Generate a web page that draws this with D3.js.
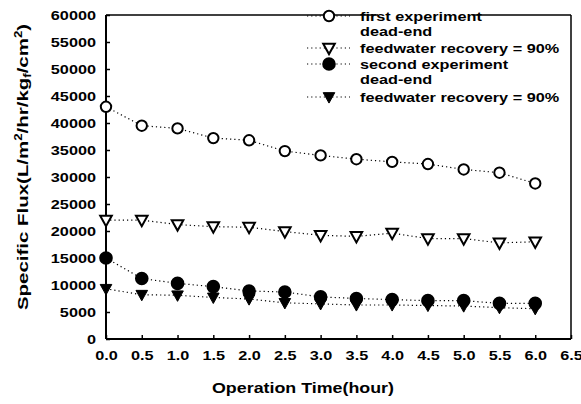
<!DOCTYPE html>
<html>
<head>
<meta charset="utf-8">
<script src="https://cdn.jsdelivr.net/npm/d3@7"></script>
<style>
html,body{margin:0;padding:0;background:#fff;}
svg{display:block;font-family:"Liberation Sans",Arial,sans-serif;font-weight:bold;}
</style>
</head>
<body>
<div id="chart"></div>
<script>
// operation time (hour)
const times=[0,0.5,1.0,1.5,2.0,2.5,3.0,3.5,4.0,4.5,5.0,5.5,6.0];
// specific flux, L/m2/hr/kgf/cm2
const firstDeadEnd=[43000,39500,39000,37200,36800,34800,34000,33300,32800,32400,31400,30800,28800];
const firstRecovery=[22000,22000,21200,20800,20700,19900,19200,19000,19600,18600,18600,17800,18000];
const secondDeadEnd=[15000,11200,10300,9700,8900,8700,7800,7500,7300,7100,7100,6600,6600];
const secondRecovery=[9300,8200,8100,7700,7400,6700,6500,6300,6300,6200,6100,5800,5600];
const xTicks=[0,0.5,1.0,1.5,2.0,2.5,3.0,3.5,4.0,4.5,5.0,5.5,6.0,6.5];
const yTicks=[0,5000,10000,15000,20000,25000,30000,35000,40000,45000,50000,55000,60000];
const legendLines=[
  {sym:'circleOpen',text:'first experiment'},
  {sym:null,text:'dead-end'},
  {sym:'triOpen',text:'feedwater recovery = 90%'},
  {sym:'circleFill',text:'second experiment'},
  {sym:null,text:'dead-end'},
  {sym:'triFill',text:'feedwater recovery = 90%'}
];

const series=[
  {values:firstDeadEnd,sym:'circleOpen'},
  {values:firstRecovery,sym:'triOpen'},
  {values:secondDeadEnd,sym:'circleFill'},
  {values:secondRecovery,sym:'triFill'}
];

const W=581,H=404;
const m={top:15,right:10,bottom:65,left:106};
const iw=W-m.left-m.right, ih=H-m.top-m.bottom;
const STRETCH=1.3;

const svg=d3.select('#chart').append('svg').attr('width',W).attr('height',H);
const g=svg.append('g').attr('transform',`translate(${m.left},${m.top})`);

const x=d3.scaleLinear().domain([0,6.5]).range([0,iw]);
const y=d3.scaleLinear().domain([0,60000]).range([ih,0]);

function stretch(sel,k){
  sel.attr('textLength',function(){return this.getComputedTextLength()*(k||STRETCH);})
    .attr('lengthAdjust','spacingAndGlyphs');
}

// axes
const xa=g.append('g').attr('transform',`translate(0,${ih})`)
  .call(d3.axisBottom(x).tickValues(xTicks).tickFormat(d3.format('.1f')).tickSizeInner(-4).tickSizeOuter(0).tickPadding(12));
const ya=g.append('g')
  .call(d3.axisLeft(y).tickValues(yTicks).tickFormat(d=>String(d)).tickSizeInner(-4).tickSizeOuter(0).tickPadding(10));
[xa,ya].forEach(a=>{
  a.selectAll('.domain').remove();
  a.selectAll('.tick line').attr('stroke','#000').attr('stroke-width',1.5);
  a.selectAll('text').attr('fill','#000').style('font-size','12.5px').style('font-weight','bold').call(stretch);
});

// frame
g.append('line').attr('x1',0).attr('x2',0).attr('y1',0).attr('y2',ih).attr('stroke','#000').attr('stroke-width',2);
g.append('line').attr('x1',0).attr('x2',iw).attr('y1',ih).attr('y2',ih).attr('stroke','#000').attr('stroke-width',2);
g.append('line').attr('x1',0).attr('x2',iw).attr('y1',0).attr('y2',0).attr('stroke','#000').attr('stroke-width',1.5);
g.append('line').attr('x1',iw).attr('x2',iw).attr('y1',0).attr('y2',ih).attr('stroke','#000').attr('stroke-width',1.5);

// markers
function drawSym(sel,sym){
  if(sym==='circleOpen'||sym==='circleFill'){
    sel.append('circle').attr('r',sym==='circleFill'?5.8:5.2)
      .attr('fill',sym==='circleFill'?'#000':'#fff')
      .attr('stroke','#000').attr('stroke-width',2);
  }else{
    const s=5.8;
    sel.append('path').attr('d',`M${-s},${-s*0.75}L${s},${-s*0.75}L0,${s*1.05}Z`)
      .attr('fill',sym==='triFill'?'#000':'#fff')
      .attr('stroke','#000').attr('stroke-width',sym==='triFill'?1:2).attr('stroke-linejoin','miter');
  }
}

const line=d3.line().x((d,i)=>x(times[i])).y(d=>y(d));
series.forEach(s=>{
  g.append('path').datum(s.values).attr('d',line)
    .attr('fill','none').attr('stroke','#000').attr('stroke-width',1.2)
    .attr('stroke-dasharray','1.2,3');
});
series.forEach(s=>{
  g.selectAll(null).data(s.values).enter().append('g')
    .attr('transform',(d,i)=>`translate(${x(times[i])},${y(d)})`)
    .each(function(){drawSym(d3.select(this),s.sym);});
});

// legend (its white box clips part of the top frame in the original)
const lg=svg.append('g');
lg.append('rect').attr('x',378).attr('y',12).attr('width',95).attr('height',5).attr('fill','#fff');
const legendRowY=[16,31,48,64,79,97];
legendLines.forEach((l,i)=>{
  const ly=legendRowY[i];
  if(l.sym){
    lg.append('line').attr('x1',307).attr('x2',350).attr('y1',ly).attr('y2',ly)
      .attr('stroke','#000').attr('stroke-width',1.2).attr('stroke-dasharray','1.2,3');
    const sg=lg.append('g').attr('transform',`translate(329,${ly})`);
    drawSym(sg,l.sym);
  }
  lg.append('text').attr('x',360).attr('y',ly+4.5).attr('fill','#000')
    .style('font-size','12.5px').text(l.text).call(stretch,1.3);
});

// axis titles
svg.append('text').attr('x',303).attr('y',393)
  .attr('text-anchor','middle').style('font-size','15px').text('Operation Time(hour)')
  .attr('textLength',182).attr('lengthAdjust','spacingAndGlyphs');

const yt=svg.append('text').attr('text-anchor','middle').style('font-size','15.5px')
  .attr('transform',`translate(28,167) rotate(-90) scale(1.32,1)`);
yt.append('tspan').text('Specific Flux(L/m');
yt.append('tspan').attr('dy',-6).style('font-size','10px').text('2');
yt.append('tspan').attr('dy',6).text('/hr/kg');
yt.append('tspan').attr('dy',3).style('font-size','10px').text('f');
yt.append('tspan').attr('dy',-3).text('/cm');
yt.append('tspan').attr('dy',-6).style('font-size','10px').text('2');
yt.append('tspan').attr('dy',6).text(')');
</script>
</body>
</html>
